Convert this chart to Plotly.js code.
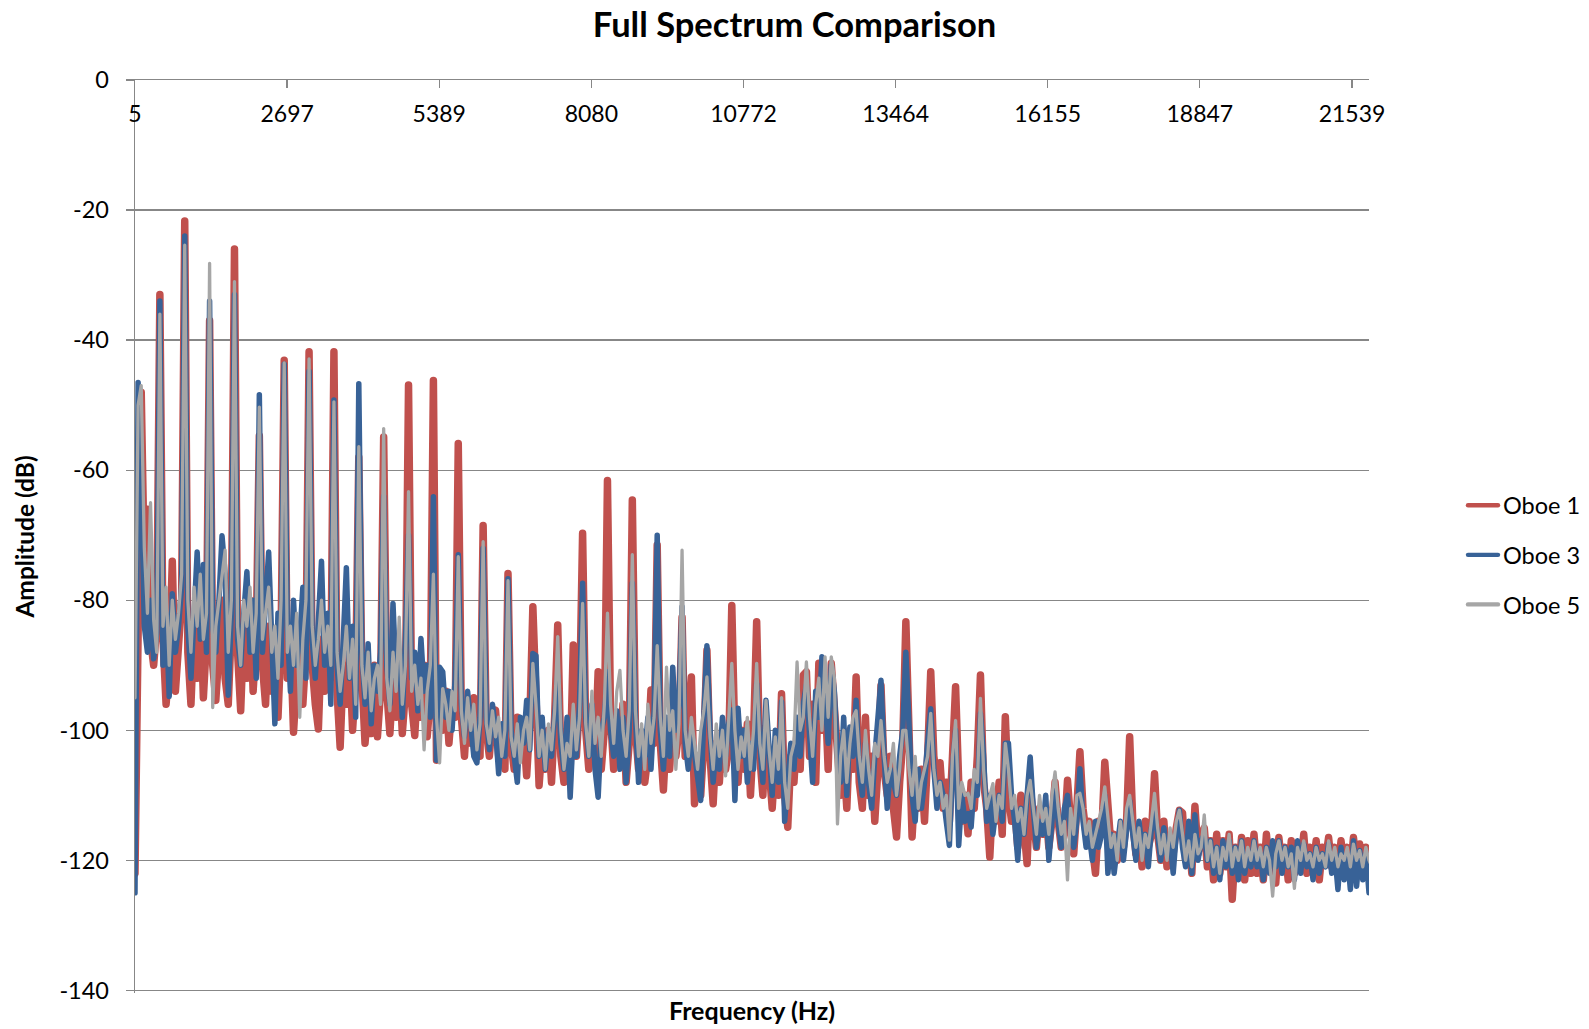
<!DOCTYPE html>
<html>
<head>
<meta charset="utf-8">
<script src="https://cdn.plot.ly/plotly-3.0.1.min.js"></script>
<style>
html,body{margin:0;padding:0;background:#ffffff;}
#chart{width:1589px;height:1029px;}
.scatterlayer .js-line, .legend .js-line{stroke-linejoin:round;stroke-linecap:round;}
.legend .traces:nth-of-type(1) .js-line{stroke-width:4.4px !important;}
.legend .traces:nth-of-type(2) .js-line{stroke-width:4.4px !important;}
.legend .traces:nth-of-type(3) .js-line{stroke-width:2.8px !important;}
</style>
</head>
<body>
<div id="chart"></div>
<script>
// Spectrum sampled on a regular frequency grid (Hz)
const binStartHz = 5;
const binStepHz = 55;

// Amplitude (dB), one row per 440 Hz harmonic interval (8 bins each)
const oboe1Db = [
 -122, -90, -48, -75, -66, -86, -90, -84,
 -33, -86, -96, -90, -74, -94, -88, -80,
 -21.7, -88, -96, -84, -92, -80, -95, -86,
 -37, -90, -95.4, -86, -80, -92, -96, -84,
 -26, -88, -97, -84, -92, -80, -94, -86,
 -54.7, -90, -96, -84, -94, -88, -98, -86,
 -43.1, -92, -86, -100.3, -90, -84, -96, -88,
 -41.8, -90, -96, -99.8, -86, -94, -88, -92,
 -41.8, -94, -102.6, -90, -96, -88, -100, -92,
 -58, -92, -102, -96, -100.5, -90, -101, -94,
 -54.9, -94, -100.5, -92, -98, -90, -100.5, -94,
 -46.9, -96, -100.8, -92, -98, -90, -101, -95,
 -46.2, -104.6, -96, -100, -94, -102, -96, -98,
 -55.9, -98, -104, -96, -102, -95, -100, -104,
 -68.5, -100, -104, -98, -96.9, -104, -100, -106,
 -75.9, -102, -106, -98, -104, -100, -107, -99,
 -81, -96, -108.5, -102, -106, -100, -108, -98,
 -83.8, -104, -108, -100, -106, -86.9, -104, -96,
 -69.7, -100, -106, -98, -104, -91, -106, -100,
 -61.6, -98, -106, -100, -104, -96, -108, -102,
 -64.6, -100, -106, -101, -108, -104, -93.8, -102,
 -71.5, -102, -109.2, -100, -106, -98, -104, -100,
 -82.6, -104, -100, -91.8, -111.3, -106, -110, -102,
 -87.7, -104, -111.3, -102, -108, -100, -106, -103,
 -80.8, -102, -108, -100, -106, -99, -110, -101,
 -83.3, -104, -110, -99.5, -106, -112, -104, -110,
 -94.4, -110, -114.9, -104, -108, -100, -106, -91.5,
 -91, -104, -96, -108, -89.7, -100, -94, -106,
 -89.7, -96, -102, -110, -104, -112, -100, -106,
 -91.8, -108, -112, -98, -110, -104, -114, -106,
 -93.1, -106, -110, -104, -112, -116.4, -108, -102,
 -83.3, -104, -116.4, -108, -112, -106, -114, -104,
 -91, -104, -108, -105, -112, -108, -114, -104,
 -93.3, -108, -114, -110, -115.9, -108, -112, -104,
 -91.5, -108, -112, -119.5, -110, -114, -108, -116,
 -97.9, -110, -114, -112, -118, -110, -116, -120.5,
 -108.7, -114, -118, -112, -116, -112, -118, -114,
 -108, -114, -118, -116, -107.7, -114, -119, -112,
 -103.3, -112, -116, -114, -118, -122, -114, -116,
 -104.9, -114, -118, -116, -120, -116, -118, -114,
 -101, -114, -119, -116, -121, -114, -118, -116,
 -106.7, -116, -120, -114, -121, -117, -119, -115,
 -112.3, -112.7, -120, -116, -122, -111.7, -119, -116,
 -115, -121, -117, -123, -116, -122, -117, -121,
 -116, -126, -118, -122, -116.5, -123, -117, -122,
 -116, -122, -118, -123, -116, -121, -118, -123.5,
 -116.5, -121, -118, -123, -117, -122, -119, -121,
 -116, -122, -118, -121, -117, -123, -118, -120,
 -116.5, -121, -118, -122, -117, -121, -118, -122,
 -116.5, -121, -117.5, -122, -118, -121, -120, -120
];

const oboe3Db = [
 -125, -46.5, -62, -84, -88, -80, -89, -85,
 -34, -90, -82, -94.8, -79, -88, -84, -78,
 -24, -84, -92, -80, -72.6, -86, -74.5, -88,
 -34, -84, -88, -80, -70.1, -76, -94.6, -82,
 -33, -86, -90, -82, -75.6, -88, -80, -92,
 -48.4, -88, -80, -72.6, -86, -99, -82, -90,
 -43.7, -84, -94, -80, -90, -86, -78, -92,
 -44.8, -86, -92, -84, -74, -90, -82, -96,
 -49.2, -90, -96, -86, -75, -92, -84, -98,
 -46.7, -88, -96, -86.7, -99, -90, -94, -88,
 -64, -90, -96, -80.5, -92, -88, -98, -86,
 -70, -92, -88, -97, -85.9, -94, -90, -98,
 -64.1, -104.6, -90.3, -91, -98, -94, -100, -92,
 -73, -96, -101, -94, -99, -104, -105, -98,
 -72, -98, -103, -96, -100, -106.7, -99, -104,
 -76.7, -100, -104, -108, -98, -102, -95.4, -103,
 -88.2, -88.5, -104, -98, -106, -101, -104, -96,
 -91.5, -102, -106, -98, -110.3, -100, -104, -96,
 -77.4, -98, -104, -96, -106, -110.3, -100, -98,
 -91, -100, -104, -97, -106, -98, -108, -100,
 -77.4, -98, -108, -100, -104, -98, -106, -97,
 -70, -100, -106, -98, -104, -90.3, -100, -96,
 -81, -102, -106, -100, -104, -108, -110.8, -98,
 -87, -100, -108, -102, -106, -98, -104, -99,
 -96.9, -110.8, -96.6, -104, -100, -108, -102, -106,
 -92.8, -102, -108, -95.4, -104, -110, -100, -108,
 -95.6, -114, -108, -102, -106, -98, -104, -96,
 -93, -100, -108, -94, -98, -88.7, -96, -102,
 -90, -94, -104, -108, -98, -110, -99.5, -104,
 -95.4, -106, -110, -102, -108, -112, -104, -98,
 -92.3, -104, -112, -106, -108, -110, -104, -100,
 -88, -102, -110, -114, -106, -112, -108, -102,
 -96.7, -106, -112, -108, -110, -114, -117.7, -106,
 -100, -117.7, -110, -114, -112.8, -114.9, -108, -110,
 -97.4, -104, -114, -110, -116, -112, -110, -114,
 -102, -102, -110, -114, -120, -112, -116, -110,
 -104.1, -112, -118, -114, -116, -110, -120, -114,
 -109, -114, -118, -112, -110, -116, -118, -114,
 -105.9, -114, -118, -116, -120, -114, -118, -116,
 -110, -122, -116, -122, -118, -114, -120, -116,
 -110.8, -116, -120, -114, -118, -116, -121, -115,
 -112.8, -116, -120, -115, -119, -117, -122, -116,
 -112.3, -118, -121, -114, -122, -113, -120, -117,
 -116, -120, -117, -122, -118, -123, -117, -121,
 -117, -122, -118, -123, -117, -122, -119, -121,
 -117, -121, -119, -123, -118, -122, -117, -121,
 -117, -122, -118, -121, -118, -123, -117, -122,
 -117.5, -121, -119, -123, -118, -122, -119, -121,
 -117.5, -122, -119, -124.5, -118, -123, -119, -124.5,
 -117, -124, -118.5, -123, -119, -125, -124, -124
];

const oboe5Db = [
 -95, -50, -47, -72, -82, -65, -83, -88,
 -36, -84, -78, -90, -80, -86, -82, -76,
 -25.4, -80, -88, -78, -84, -76, -86, -82,
 -28.2, -96.5, -84, -80, -76, -72.3, -88, -80,
 -31, -84, -90, -80, -84, -78, -88, -82,
 -50.3, -86, -82, -78, -88, -84, -92, -80,
 -43.5, -88, -84, -90, -82, -98, -86, -80,
 -42.9, -84, -90, -86, -80, -88, -84, -90,
 -49.5, -88, -94, -90, -84, -92, -86, -96,
 -56.4, -90, -95, -88, -97, -92, -90, -96,
 -53.6, -92, -97, -88, -94, -82.6, -96, -90,
 -63.3, -94, -90, -96, -92, -103, -94, -90,
 -76, -98, -105, -93.6, -96, -100, -94, -97,
 -73.3, -97, -102, -95, -100, -96, -103, -99,
 -71, -99, -102, -97, -101, -98, -104, -100,
 -77, -101, -104, -99, -105, -100, -98, -103,
 -89.7, -96, -104, -100, -106, -99, -103, -97,
 -85.6, -100, -106, -102, -104, -96, -103, -98,
 -80.5, -99, -104, -94, -102, -98, -104, -96,
 -82, -96, -102, -94, -90.8, -100, -104, -97,
 -73, -97, -104, -99, -106, -96, -102, -98,
 -87, -98, -104, -90.3, -100, -97, -106, -99,
 -72.3, -100, -104, -98, -102, -106, -100, -97,
 -91.8, -101, -106, -99, -104, -100, -107, -98,
 -89.7, -100, -106, -101, -104, -98, -106, -100,
 -89.7, -102, -106, -95.4, -103, -108, -101, -106,
 -95, -108, -112, -104, -102, -89.5, -100, -98,
 -89.5, -98, -104, -96, -92, -100, -88.7, -98,
 -88.7, -92, -114.4, -104, -100, -108, -102, -98,
 -97, -104, -108, -100, -106, -110, -102, -104,
 -98.5, -104, -108, -106, -102, -110, -106, -100,
 -100, -106, -110, -104, -112, -108, -106, -104,
 -97.4, -106, -110, -108, -112, -110, -116.9, -104,
 -98.5, -112, -108, -110, -109.7, -112, -106, -108,
 -95.1, -106, -112, -110, -108.2, -114, -110, -112,
 -102, -106, -112, -110, -114, -112, -116, -110,
 -107.7, -112, -116, -110, -114, -112, -116, -110,
 -106.4, -112, -116, -114, -123, -112, -116, -110,
 -109.7, -112, -116, -114, -118, -116, -114, -112,
 -108.7, -114, -118, -116, -120, -114, -118, -112,
 -110, -114, -118, -115, -120, -116, -118, -114,
 -109.7, -115, -119, -116, -120, -115, -118, -114,
 -112.3, -116, -120, -117, -121, -116, -119, -118,
 -113, -120, -117, -121, -118, -122, -118, -120,
 -116, -121, -118, -120, -117, -121, -118, -120,
 -117, -120, -118, -121, -118, -120, -125.5, -119,
 -117, -120, -118, -121, -119, -124.3, -118, -120,
 -117, -120, -119, -121, -118, -120, -119, -121,
 -117, -120, -118, -121, -119, -120, -118, -121,
 -117.5, -120, -118.5, -121, -118, -120, -121, -121
];

const seriesNames = ['Oboe 1', 'Oboe 3', 'Oboe 5'];
const xTickVals = [5, 2697, 5389, 8080, 10772, 13464, 16155, 18847, 21539];
const xTickText = ['5', '2697', '5389', '8080', '10772', '13464', '16155', '18847', '21539'];
const yTickVals = [0, -20, -40, -60, -80, -100, -120, -140];
const yTickText = ['0', '-20', '-40', '-60', '-80', '-100', '-120', '-140'];

const FONT = 'Lato, "Liberation Sans", sans-serif';
const AXIS_GRAY = '#878787';

const traces = [
  {type: 'scatter', mode: 'lines', name: seriesNames[0], legendgroup: 'a',
   x0: binStartHz, dx: binStepHz, y: oboe1Db,
   line: {color: '#C0504D', width: 7.5}, hoverinfo: 'skip'},
  {type: 'scatter', mode: 'lines', name: seriesNames[1], legendgroup: 'b',
   x0: binStartHz, dx: binStepHz, y: oboe3Db,
   line: {color: '#386297', width: 5.5}, hoverinfo: 'skip'},
  {type: 'scatter', mode: 'lines', name: seriesNames[2], legendgroup: 'c',
   x0: binStartHz, dx: binStepHz, y: oboe5Db,
   line: {color: '#A6A6A6', width: 3.3}, hoverinfo: 'skip'}
];

const layout = {
  width: 1589, height: 1029,
  margin: {l: 135, r: 220, t: 80, b: 36.4, pad: 0},
  paper_bgcolor: '#ffffff', plot_bgcolor: '#ffffff',
  font: {family: FONT, size: 23, color: '#000000'},
  title: {text: 'Full Spectrum Comparison', font: {family: FONT, size: 34.5, weight: 700, color: '#000000'},
          x: 0.5, xref: 'container', xanchor: 'center', y: 1 - 25 / 1029, yref: 'container', yanchor: 'middle'},
  showlegend: true,
  legend: {xref: 'container', yref: 'container', x: 1463 / 1589, xanchor: 'left', y: 1 - 555 / 1029, yanchor: 'middle',
           traceorder: 'grouped', tracegroupgap: 16,
           font: {family: FONT, size: 23.5, color: '#000000'}, bgcolor: 'rgba(0,0,0,0)'},
  xaxis: {
    type: 'linear', range: [5, 21840], side: 'top', fixedrange: true,
    tickmode: 'array', tickvals: xTickVals, ticktext: xTickText,
    ticks: 'inside', ticklen: 8, tickwidth: 1.3, tickcolor: AXIS_GRAY,
    ticklabelposition: 'inside', ticklabeloverflow: 'allow', ticklabelstandoff: 20,
    tickfont: {family: FONT, size: 23, color: '#000000'},
    showline: true, linecolor: AXIS_GRAY, linewidth: 1.3,
    showgrid: false, zeroline: false, automargin: false
  },
  yaxis: {
    range: [-140.4, 0], fixedrange: true,
    tickmode: 'array', tickvals: yTickVals, ticktext: yTickText,
    ticks: 'outside', ticklen: 8, tickwidth: 1.3, tickcolor: AXIS_GRAY,
    ticklabelstandoff: 12,
    tickfont: {family: FONT, size: 23.5, color: '#000000'},
    showline: true, linecolor: AXIS_GRAY, linewidth: 1.3,
    showgrid: true, gridcolor: AXIS_GRAY, gridwidth: 1.3,
    zeroline: false, automargin: false,
    title: {text: 'Amplitude (dB)', font: {family: FONT, size: 24.5, weight: 700, color: '#000000'}, standoff: 17}
  },
  annotations: [{
    text: 'Frequency (Hz)', xref: 'paper', yref: 'paper', x: 0.5, y: -17 / 912.6,
    xanchor: 'center', yanchor: 'middle', showarrow: false,
    font: {family: FONT, size: 25, weight: 700, color: '#000000'}
  }]
};

Plotly.newPlot('chart', traces, layout, {staticPlot: true, displayModeBar: false});
</script>
</body>
</html>
